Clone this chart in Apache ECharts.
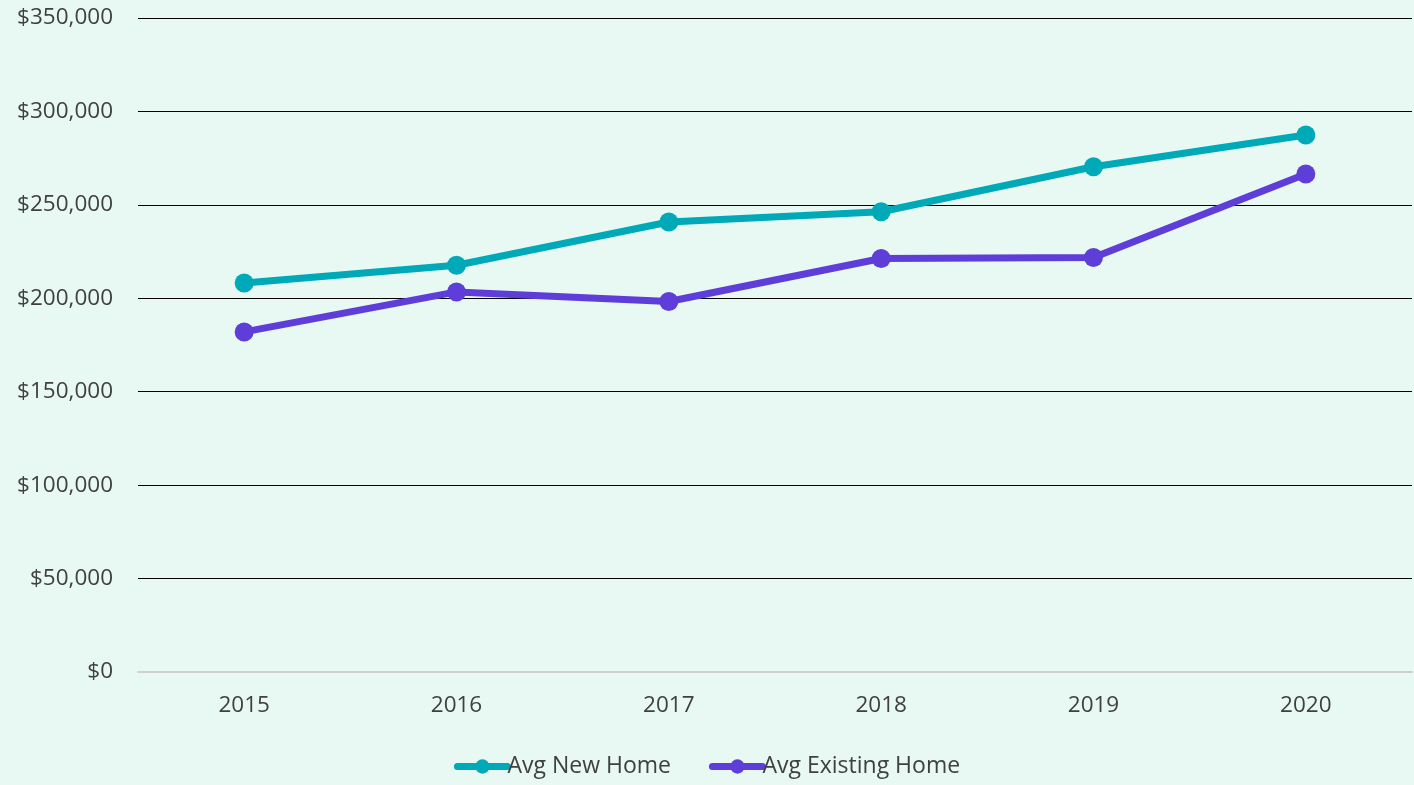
<!DOCTYPE html>
<html>
<head>
<meta charset="utf-8">
<script src="https://cdn.jsdelivr.net/npm/echarts@6/dist/echarts.min.js"></script>
<style>
  html, body { margin: 0; padding: 0; background: #e8f9f3; }
  #main { width: 1414px; height: 785px; }
</style>
</head>
<body>
<div id="main"></div>
<script>
const years = ['2015', '2016', '2017', '2018', '2019', '2020'];
const newHome = [208200, 217700, 240800, 246300, 270400, 287400];
const existingHome = [182000, 203400, 198300, 221300, 221800, 266500];
const seriesNames = ['Avg New Home', 'Avg Existing Home'];

const chart = echarts.init(document.getElementById('main'));

const textFont = { fontFamily: 'Open Sans', fontSize: 22.5, color: '#404040' };

const option = {
  backgroundColor: '#e8f9f3',
  animation: false,
  grid: { left: 138, right: 2, top: 18, bottom: 113 },
  legend: {
    bottom: 2,
    left: 'center',
    itemWidth: 50,
    itemHeight: 18,
    itemGap: 38,
    lineStyle: { width: 7, cap: 'round' },
    textStyle: { ...textFont, fontSize: 23, padding: [0, 0, 0, -5] },
    data: seriesNames
  },
  xAxis: {
    type: 'category',
    data: years,
    axisLine: { lineStyle: { color: '#d0d0d0', width: 2 } },
    axisTick: { show: false },
    axisLabel: { ...textFont, margin: 22 }
  },
  yAxis: {
    type: 'value',
    min: 0,
    max: 350000,
    interval: 50000,
    axisLine: { show: false },
    axisTick: { show: false },
    splitLine: { lineStyle: { color: '#000000', width: 1.2 } },
    axisLabel: {
      ...textFont,
      margin: 25,
      formatter: v => '$' + v.toLocaleString('en-US')
    }
  },
  series: [
    {
      name: seriesNames[0],
      type: 'line',
      data: newHome,
      symbol: 'circle',
      symbolSize: 19,
      lineStyle: { width: 7, color: '#00a9b7' },
      itemStyle: { color: '#00a9b7' }
    },
    {
      name: seriesNames[1],
      type: 'line',
      data: existingHome,
      symbol: 'circle',
      symbolSize: 19,
      lineStyle: { width: 7, color: '#5f3dd8' },
      itemStyle: { color: '#5f3dd8' }
    }
  ]
};

chart.setOption(option);
</script>
</body>
</html>
